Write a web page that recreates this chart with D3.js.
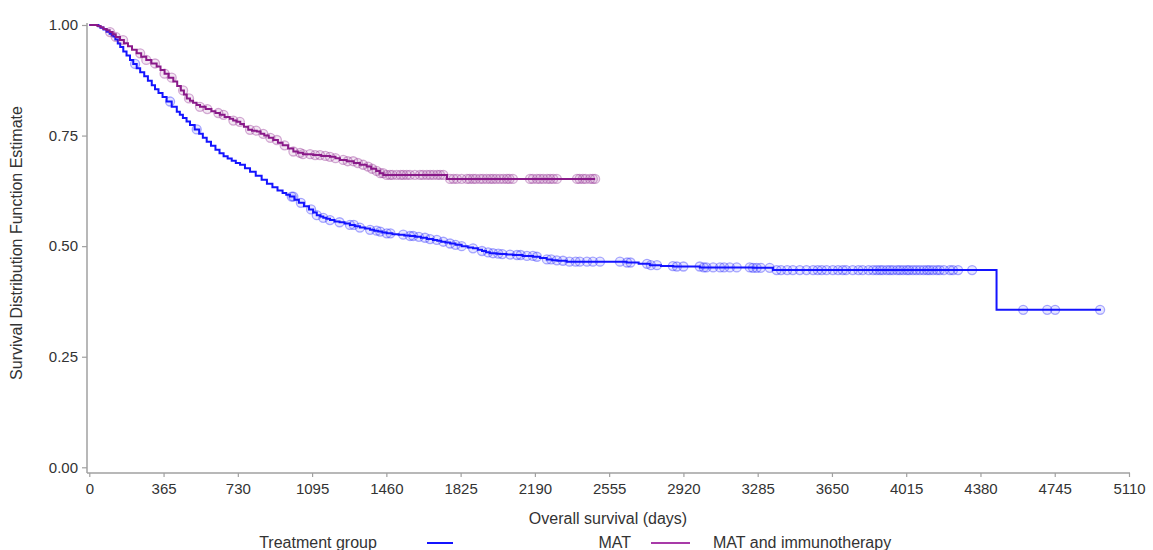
<!DOCTYPE html>
<html><head><meta charset="utf-8">
<script src="https://cdn.jsdelivr.net/npm/d3@7"></script>
<style>body{margin:0;background:#fff} text{font-family:Arial,"Liberation Sans",sans-serif}</style>
</head><body><svg id="c" width="1153" height="550"></svg>
<script>
const xTicks = [0,365,730,1095,1460,1825,2190,2555,2920,3285,3650,4015,4380,4745,5110];
const yTicks = [0,0.25,0.5,0.75,1.0];
const groups = ["MAT","MAT and immunotherapy"];

// MAT (blue) step curve: event times (days) and survival estimates
const matTimes = [0,30,45,55,70,85,100,110,118,128,140,152,167,183,200,216,233,250,270,288,307,323,340,360,380,405,430,445,460,478,495,518,540,558,577,598,620,640,660,680,700,720,741,765,790,818,847,873,900,925,950,968,986,1008,1030,1055,1080,1100,1118,1135,1150,1165,1183,1205,1230,1255,1281,1305,1330,1355,1380,1400,1420,1440,1462,1490,1520,1548,1576,1603,1630,1660,1689,1710,1730,1750,1773,1800,1830,1860,1886,1910,1930,1950,1969,2000,2020,2050,2082,2130,2181,2215,2248,2275,2300,2346,2641,2700,2755,2810,2870,3001,3262,3360,4459,4972];
const matSurv  = [1.0,1.0,0.997,0.994,0.990,0.985,0.980,0.977,0.974,0.967,0.958,0.950,0.940,0.931,0.921,0.912,0.902,0.893,0.884,0.874,0.864,0.855,0.846,0.837,0.827,0.815,0.804,0.797,0.790,0.782,0.774,0.764,0.754,0.745,0.736,0.727,0.718,0.710,0.703,0.698,0.693,0.688,0.684,0.676,0.668,0.659,0.650,0.641,0.633,0.626,0.620,0.616,0.612,0.605,0.598,0.590,0.583,0.576,0.570,0.567,0.564,0.562,0.559,0.556,0.554,0.551,0.548,0.545,0.542,0.540,0.537,0.535,0.533,0.531,0.529,0.527,0.526,0.524,0.523,0.521,0.519,0.516,0.514,0.512,0.510,0.508,0.506,0.503,0.500,0.497,0.495,0.492,0.489,0.486,0.484,0.483,0.482,0.481,0.480,0.478,0.476,0.473,0.470,0.468,0.467,0.465,0.463,0.460,0.457,0.455,0.454,0.452,0.451,0.446,0.356,0.356];
const matCensor = [225,397,528,995,1003,1040,1090,1118,1150,1183,1230,1281,1300,1330,1380,1412,1430,1462,1480,1543,1576,1592,1620,1650,1675,1708,1740,1773,1800,1830,1886,1930,1960,1984,2010,2030,2068,2102,2120,2151,2180,2200,2249,2270,2298,2328,2360,2390,2411,2446,2475,2510,2608,2643,2660,2741,2760,2790,2868,2888,2920,3000,3020,3033,3066,3100,3120,3148,3182,3246,3262,3280,3300,3344,3378,3400,3430,3458,3492,3525,3557,3580,3600,3624,3654,3680,3703,3720,3752,3780,3801,3830,3852,3870,3886,3900,3920,3935,3950,3970,3984,4000,4018,4030,4048,4065,4082,4100,4117,4130,4147,4166,4180,4200,4230,4245,4270,4339,4590,4708,4747,4968];

// MAT and immunotherapy (purple)
const immTimes = [0,40,55,69,85,100,115,130,151,170,190,210,233,255,280,305,331,350,370,390,413,432,450,465,479,495,510,527,544,572,600,620,642,665,690,707,724,742,760,781,800,823,842,860,882,904,927,950,977,1003,1025,1050,1100,1140,1183,1210,1232,1265,1300,1330,1363,1385,1410,1428,1445,1758,2486];
const immSurv  = [1.0,0.998,0.995,0.991,0.988,0.984,0.979,0.973,0.966,0.959,0.952,0.944,0.936,0.928,0.921,0.913,0.906,0.898,0.890,0.881,0.872,0.862,0.852,0.843,0.834,0.829,0.824,0.819,0.815,0.810,0.805,0.801,0.797,0.792,0.788,0.784,0.781,0.776,0.770,0.763,0.761,0.759,0.754,0.750,0.745,0.740,0.734,0.728,0.721,0.714,0.711,0.708,0.706,0.704,0.702,0.699,0.695,0.692,0.688,0.684,0.680,0.675,0.670,0.665,0.661,0.652,0.652];
const immCensor = [102,130,166,250,280,323,370,405,461,490,544,580,634,660,708,740,790,820,855,890,922,960,1003,1036,1050,1085,1110,1134,1160,1183,1210,1248,1270,1297,1320,1346,1370,1390,1412,1430,1444,1461,1478,1490,1511,1530,1543,1560,1576,1600,1625,1640,1659,1675,1691,1710,1724,1740,1773,1790,1807,1830,1856,1870,1886,1900,1920,1935,1953,1970,1984,2000,2018,2035,2052,2065,2082,2166,2180,2200,2215,2231,2250,2265,2280,2298,2397,2410,2426,2440,2461,2475,2486];

const svg = d3.select("#c");
const x = d3.scaleLinear().domain([0,5110]).range([89.3,1129]);
const y = d3.scaleLinear().domain([0,1]).range([467.3,25]);
const axisCol = "#a0a0a0", textCol = "#333";

// axes
const gx = svg.append("g").attr("transform","translate(0,473)")
  .call(d3.axisBottom(x).tickValues(xTicks).tickSize(4).tickSizeOuter(0).tickPadding(6).tickFormat(d3.format("d")));
gx.select(".domain").remove();
svg.append("line").attr("x1",87).attr("x2",1130).attr("y1",473).attr("y2",473).attr("stroke",axisCol).attr("stroke-width",1.5);
const gy = svg.append("g").attr("transform","translate(87,0)")
  .call(d3.axisLeft(y).tickValues(yTicks).tickSize(5).tickSizeOuter(0).tickPadding(4).tickFormat(d3.format(".2f")));
gy.select(".domain").remove();
svg.append("line").attr("x1",87).attr("x2",87).attr("y1",23).attr("y2",473).attr("stroke",axisCol).attr("stroke-width",1.5);
svg.selectAll(".tick line").attr("stroke",axisCol).attr("stroke-width",1.2);
svg.selectAll(".tick text").attr("fill",textCol).style("font-size","15px").style("font-family","Arial, 'Liberation Sans', sans-serif");

svg.append("text").attr("x",608).attr("y",524).attr("text-anchor","middle").attr("fill",textCol).style("font-size","16px").text("Overall survival (days)");
svg.append("text").attr("transform","translate(22,243) rotate(-90)").attr("text-anchor","middle").attr("fill",textCol).style("font-size","16px").text("Survival Distribution Function Estimate");

function stepVal(times, surv, t){ let i = d3.bisectRight(times, t)-1; return surv[Math.max(0,i)]; }

const line = d3.line().x(d=>x(d[0])).y(d=>y(d[1])).curve(d3.curveStepAfter);
function drawGroup(times, surv, cens, col){
  const pts = times.map((t,i)=>[t,surv[i]]);
  svg.append("path").datum(pts).attr("d",line).attr("fill","none").attr("stroke",col).attr("stroke-width",2);
  svg.append("g").selectAll("circle").data(cens).join("circle")
    .attr("cx",d=>x(d)).attr("cy",d=>y(stepVal(times,surv,d))).attr("r",4.5)
    .attr("fill",col).attr("fill-opacity",0.1).attr("stroke",col).attr("stroke-opacity",0.35).attr("stroke-width",1.3);
}
const blue = "#1414ff", purple = "#8a1a8a";
drawGroup(matTimes, matSurv, matCensor, blue);
drawGroup(immTimes, immSurv, immCensor, purple);

// legend
const ly = 543;
svg.append("text").attr("x",318).attr("y",ly+5).attr("text-anchor","middle").attr("fill",textCol).style("font-size","16px").text("Treatment group");
svg.append("line").attr("x1",427).attr("x2",453).attr("y1",ly).attr("y2",ly).attr("stroke",blue).attr("stroke-width",2);
svg.append("text").attr("x",631).attr("y",ly+5).attr("text-anchor","end").attr("fill",textCol).style("font-size","16px").text(groups[0]);
svg.append("line").attr("x1",651).attr("x2",690).attr("y1",ly).attr("y2",ly).attr("stroke","#a83aa8").attr("stroke-width",2);
svg.append("text").attr("x",713).attr("y",ly+5).attr("fill",textCol).style("font-size","16px").text(groups[1]);
</script></body></html>
